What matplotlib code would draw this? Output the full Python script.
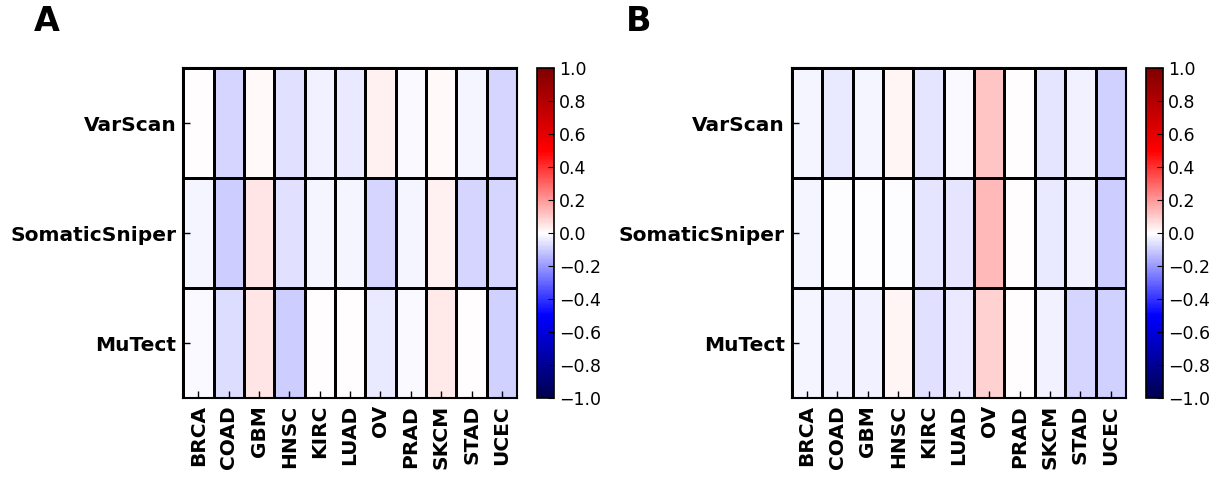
import numpy as np
import matplotlib
matplotlib.use('Agg')
import matplotlib.pyplot as plt

# cancer types (columns) and variant callers (rows)
cancers = ["BRCA", "COAD", "GBM", "HNSC", "KIRC", "LUAD", "OV", "PRAD", "SKCM", "STAD", "UCEC"]
callers = ["VarScan", "SomaticSniper", "MuTect"]

# panel A correlations
a_varscan = [0.00, -0.08, 0.01, -0.06, -0.03, -0.04, 0.03, -0.01, 0.01, -0.02, -0.08]
a_sniper = [-0.02, -0.10, 0.05, -0.06, -0.02, -0.02, -0.08, -0.02, 0.03, -0.08, -0.08]
a_mutect = [-0.01, -0.07, 0.05, -0.10, 0.005, 0.005, -0.04, -0.01, 0.04, 0.00, -0.09]

# panel B correlations
b_varscan = [-0.02, -0.04, -0.02, 0.02, -0.05, -0.01, 0.11, 0.00, -0.05, -0.03, -0.09]
b_sniper = [-0.02, -0.005, -0.005, -0.005, -0.05, -0.05, 0.14, 0.00, -0.04, -0.03, -0.10]
b_mutect = [-0.02, -0.03, -0.03, 0.02, -0.06, -0.04, 0.09, 0.00, -0.03, -0.08, -0.09]

cbar_ticks = np.arange(-1.0, 1.01, 0.2)

fig = plt.figure(figsize=(12.21, 4.78), dpi=100)


def heatmap(left, cleft, data, letter, letter_x):
    ax = fig.add_axes([left, 0.167, 0.2735, 0.690])
    mesh = ax.pcolormesh(np.array(data), cmap='seismic', vmin=-1, vmax=1,
                         edgecolors='k', linewidth=1.0)
    ax.set_xlim(0, len(cancers))
    ax.set_ylim(len(callers), 0)
    ax.set_xticks(np.arange(len(cancers)) + 0.5)
    ax.set_xticklabels(cancers, rotation=90, fontsize=14.5, fontweight='bold')
    ax.set_yticks(np.arange(len(callers)) + 0.5)
    ax.set_yticklabels(callers, fontsize=14.5, fontweight='bold')
    ax.tick_params(direction='in', length=5, width=1, top=False, right=False, pad=5)
    for s in ax.spines.values():
        s.set_linewidth(1.5)

    cax = fig.add_axes([cleft, 0.167, 0.0139, 0.690])
    cb = fig.colorbar(mesh, cax=cax, ticks=cbar_ticks)
    cb.ax.tick_params(direction='in', length=4, labelsize=12.5)
    labels = ['%.1f' % abs(t) if t > -1e-9 else '\u2212%.1f' % abs(t) for t in cbar_ticks]
    cb.ax.set_yticklabels(labels)
    cb.outline.set_linewidth(1.2)

    fig.text(letter_x, 0.955, letter, fontsize=24, fontweight='bold', va='center')


heatmap(0.150, 0.4398, [a_varscan, a_sniper, a_mutect], 'A', 0.028)
heatmap(0.6486, 0.9386, [b_varscan, b_sniper, b_mutect], 'B', 0.513)

fig.savefig('out.png', dpi=100)
